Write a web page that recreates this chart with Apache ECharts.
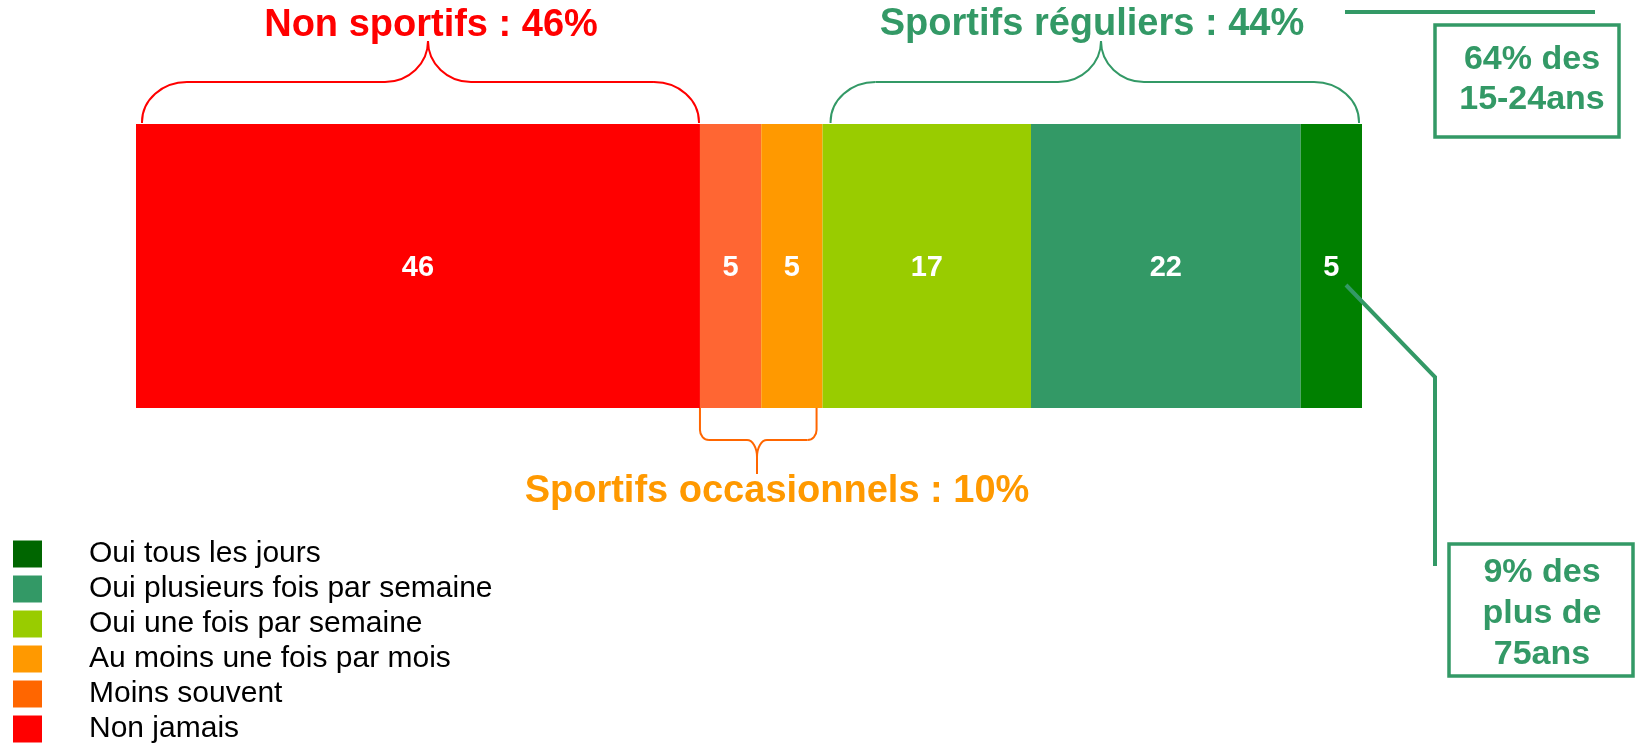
<!DOCTYPE html>
<html>
<head>
<meta charset="utf-8">
<script src="https://cdn.jsdelivr.net/npm/echarts@6/dist/echarts.min.js"></script>
<style>
  html, body { margin: 0; padding: 0; background: #fff; }
  #main { width: 1638px; height: 744px; }
</style>
</head>
<body>
<div id="main"></div>
<script>
var categories = ['Non jamais', 'Moins souvent', 'Au moins une fois par mois',
  'Oui une fois par semaine', 'Oui plusieurs fois par semaine', 'Oui tous les jours'];
var values = [46, 5, 5, 17, 22, 5];
var barColors = ['#FF0000', '#FF6633', '#FF9900', '#99CC00', '#339966', '#008000'];
var legendColors = ['#FF0000', '#FF6600', '#FF9900', '#99CC00', '#339966', '#006600'];
var groupTitles = ['Non sportifs : 46%', 'Sportifs occasionnels : 10%', 'Sportifs réguliers : 44%'];
var groupRanges = [[0, 46], [46, 56], [56, 100]];
var callouts = [['64% des', '15-24ans'], ['9% des', 'plus de', '75ans']];

var FONT = '"Liberation Sans", Arial, sans-serif';
var chart = echarts.init(document.getElementById('main'));

var series = categories.map(function (name, i) {
  return {
    name: name,
    type: 'bar',
    stack: 'total',
    barWidth: '100%',
    data: [values[i]],
    itemStyle: { color: barColors[i] },
    label: {
      show: true,
      position: 'inside',
      offset: [0, 2],
      color: '#fff',
      fontWeight: 'bold',
      fontSize: 29,
      fontFamily: FONT
    },
    emphasis: { disabled: true }
  };
});

chart.setOption({
  animation: false,
  grid: { left: 136, right: 276, top: 124, bottom: 336 },
  xAxis: { type: 'value', min: 0, max: 100, show: false },
  yAxis: { type: 'category', data: [''], show: false },
  legend: {
    orient: 'vertical',
    left: 13,
    top: 539,
    height: 240,
    padding: 0,
    itemWidth: 29,
    itemHeight: 27,
    itemGap: 5,
    icon: 'rect',
    selectedMode: false,
    data: categories.slice().reverse().map(function (name) {
      return { name: name, itemStyle: { color: legendColors[categories.indexOf(name)] } };
    }),
    textStyle: { fontSize: 30, fontFamily: FONT, color: '#000', lineHeight: 27, padding: [0, 0, 0, 42] }
  },
  series: series
});

// braces over the groups, built from lines and bezier curves
function px(v) { return chart.convertToPixel({ xAxisIndex: 0 }, v); }
var K = 0.5523;
function seg(x1, y1, x2, y2, st) {
  return { type: 'line', shape: { x1: x1, y1: y1, x2: x2, y2: y2 }, style: st };
}
function curve(x1, y1, c1x, c1y, c2x, c2y, x2, y2, st) {
  return { type: 'bezierCurve', shape: { x1: x1, y1: y1, cpx1: c1x, cpy1: c1y, cpx2: c2x, cpy2: c2y, x2: x2, y2: y2 }, style: st };
}
function braceHalf(xe, yEnd, yMid, tipX, yTip, rx, ry, rtx, rty, st) {
  var s = yTip < yMid ? -1 : 1;
  var h = xe < tipX ? 1 : -1;
  return [
    seg(xe, yEnd, xe, yMid - s * ry, st),
    curve(xe, yMid - s * ry, xe, yMid - s * ry * (1 - K), xe + h * rx * (1 - K), yMid, xe + h * rx, yMid, st),
    seg(xe + h * rx, yMid, tipX - h * rtx, yMid, st),
    curve(tipX - h * rtx, yMid, tipX - h * rtx * (1 - K), yMid, tipX, yMid + s * rty * (1 - K), tipX, yMid + s * rty, st),
    seg(tipX, yMid + s * rty, tipX, yTip, st)
  ];
}
function brace(x1, x2, tipX, yEnd, yMid, yTip, rx, ry, rtx, rty, color) {
  var st = { stroke: color, lineWidth: 2, fill: null };
  return {
    type: 'group',
    children: braceHalf(x1, yEnd, yMid, tipX, yTip, rx, ry, rtx, rty, st)
      .concat(braceHalf(x2, yEnd, yMid, tipX, yTip, rx, ry, rtx, rty, st))
  };
}
function label(text, x, y, color, size, lh) {
  return {
    type: 'text', x: x, y: y,
    style: {
      text: text, fill: color, font: 'bold ' + size + 'px ' + FONT,
      align: 'center', verticalAlign: 'middle', textAlign: 'center', textVerticalAlign: 'middle',
      lineHeight: lh || size
    }
  };
}

var g = '#339966';
chart.setOption({
  graphic: {
    type: 'group',
    z: 100,
    children: [
      brace(px(groupRanges[0][0]) + 6, px(groupRanges[0][1]) - 1, 428, 123, 82, 41, 45, 40, 43, 41, '#FF0000'),
      brace(px(groupRanges[1][0]), px(groupRanges[1][1]) - 6, 757, 407, 440, 474, 9, 10, 10, 17, '#FF6600'),
      brace(px(groupRanges[2][0]) + 8, px(groupRanges[2][1]) - 3, 1101, 123, 82, 41, 45, 40, 43, 41, g),
      label(groupTitles[0], 431, 26, '#FF0000', 38),
      label(groupTitles[1], 777, 492, '#FF9900', 38),
      label(groupTitles[2], 1092, 25, g, 38),
      { type: 'line', shape: { x1: 1345, y1: 12, x2: 1595, y2: 12 }, style: { stroke: g, lineWidth: 4 } },
      { type: 'rect', shape: { x: 1435, y: 25, width: 184, height: 112 }, style: { fill: null, stroke: g, lineWidth: 3.5 } },
      label(callouts[0].join('\n'), 1532, 80, g, 34, 40),
      { type: 'polyline', z: 100, shape: { points: [[1346, 285], [1435, 377], [1435, 566]] }, style: { fill: null, stroke: g, lineWidth: 4 } },
      { type: 'rect', shape: { x: 1449, y: 544, width: 184, height: 132 }, style: { fill: null, stroke: g, lineWidth: 3.5 } },
      label(callouts[1].join('\n'), 1542, 614, g, 34, 41)
    ]
  }
});
</script>
</body>
</html>
